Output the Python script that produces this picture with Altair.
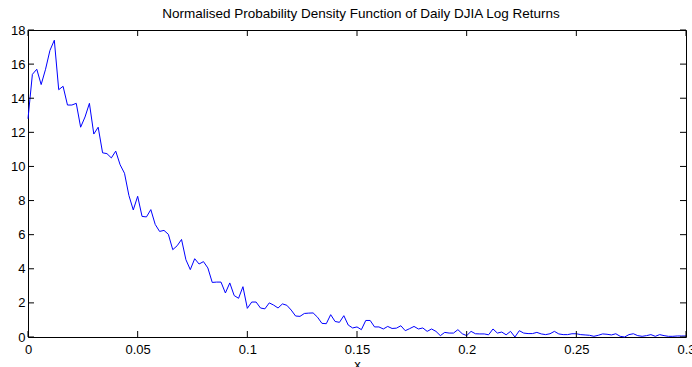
import altair as alt
import pandas as pd

# Bin centres of the return histogram (width 0.002)
x_grid = [
    0.000, 0.002, 0.004, 0.006, 0.008, 0.010, 0.012, 0.014, 0.016, 0.018,
    0.020, 0.022, 0.024, 0.026, 0.028, 0.030, 0.032, 0.034, 0.036, 0.038,
    0.040, 0.042, 0.044, 0.046, 0.048, 0.050, 0.052, 0.054, 0.056, 0.058,
    0.060, 0.062, 0.064, 0.066, 0.068, 0.070, 0.072, 0.074, 0.076, 0.078,
    0.080, 0.082, 0.084, 0.086, 0.088, 0.090, 0.092, 0.094, 0.096, 0.098,
    0.100, 0.102, 0.104, 0.106, 0.108, 0.110, 0.112, 0.114, 0.116, 0.118,
    0.120, 0.122, 0.124, 0.126, 0.128, 0.130, 0.132, 0.134, 0.136, 0.138,
    0.140, 0.142, 0.144, 0.146, 0.148, 0.150, 0.152, 0.154, 0.156, 0.158,
    0.160, 0.162, 0.164, 0.166, 0.168, 0.170, 0.172, 0.174, 0.176, 0.178,
    0.180, 0.182, 0.184, 0.186, 0.188, 0.190, 0.192, 0.194, 0.196, 0.198,
    0.200, 0.202, 0.204, 0.206, 0.208, 0.210, 0.212, 0.214, 0.216, 0.218,
    0.220, 0.222, 0.224, 0.226, 0.228, 0.230, 0.232, 0.234, 0.236, 0.238,
    0.240, 0.242, 0.244, 0.246, 0.248, 0.250, 0.252, 0.254, 0.256, 0.258,
    0.260, 0.262, 0.264, 0.266, 0.268, 0.270, 0.272, 0.274, 0.276, 0.278,
    0.280, 0.282, 0.284, 0.286, 0.288, 0.290, 0.292, 0.294, 0.296, 0.298,
    0.300,
]

# Normalised density in each bin
density = [
    12.8, 15.4, 15.7, 14.8, 15.7, 16.8, 17.4, 14.5, 14.7, 13.6,
    13.6, 13.7, 12.3, 12.9, 13.7, 11.9, 12.3, 10.8, 10.75, 10.5,
    10.9, 10.1, 9.6, 8.3, 7.45, 8.25, 7.07, 7.04, 7.47, 6.6,
    6.19, 6.25, 6.02, 5.12, 5.35, 5.72, 4.53, 3.95, 4.59, 4.28,
    4.42, 4.05, 3.2, 3.22, 3.22, 2.58, 3.17, 2.43, 2.27, 2.95,
    1.68, 2.05, 2.05, 1.7, 1.65, 2.0, 1.87, 1.7, 1.94, 1.86,
    1.58, 1.23, 1.21, 1.38, 1.4, 1.41, 1.16, 0.8, 0.78, 1.31,
    0.91, 0.86, 1.25, 0.7, 0.53, 0.59, 0.43, 0.97, 0.97, 0.59,
    0.59, 0.47, 0.62, 0.5, 0.52, 0.66, 0.37, 0.49, 0.62, 0.47,
    0.53, 0.33, 0.47, 0.33, 0.08, 0.27, 0.23, 0.23, 0.43, 0.19,
    0.08, 0.33, 0.19, 0.18, 0.18, 0.13, 0.47, 0.23, 0.29, 0.13,
    0.33, 0.0, 0.37, 0.23, 0.2, 0.2, 0.27, 0.18, 0.14, 0.19,
    0.33, 0.18, 0.14, 0.14, 0.19, 0.19, 0.14, 0.12, 0.1, 0.04,
    0.1, 0.18, 0.16, 0.12, 0.19, 0.04, 0.0, 0.14, 0.19, 0.08,
    0.04, 0.08, 0.14, 0.04, 0.14, 0.08, 0.04, 0.04, 0.06, 0.06,
    0.06,
]

x_ticks = [0, 0.05, 0.1, 0.15, 0.2, 0.25, 0.3]
y_ticks = [0, 2, 4, 6, 8, 10, 12, 14, 16, 18]

W, H = 658, 307
TICK = 6
FONT = "Liberation Sans"

df = pd.DataFrame({"x": x_grid, "pdf": density})
xt = pd.DataFrame({"x": x_ticks})
yt = pd.DataFrame({"pdf": y_ticks})

xscale = alt.Scale(domain=[0, 0.3], nice=False, zero=False)
yscale = alt.Scale(domain=[0, 18], nice=False)

label_style = dict(labelFont=FONT, labelFontSize=13, labelColor="black",
                   titleFont=FONT, titleFontSize=13, titleColor="black",
                   titleFontWeight="normal", labelFlush=False)

x_axis = alt.Axis(values=x_ticks, format="~g", title="x", ticks=False,
                  domain=False, grid=False, labelPadding=6, titlePadding=2,
                  **label_style)
y_axis = alt.Axis(values=y_ticks, format="d", title=None, ticks=False,
                  domain=False, grid=False, labelPadding=3, **label_style)

line = alt.Chart(df).mark_line(color="#0000ff", strokeWidth=1).encode(
    x=alt.X("x:Q", scale=xscale, axis=x_axis),
    y=alt.Y("pdf:Q", scale=yscale, axis=y_axis),
)

# Inward-pointing ticks on all four sides of the box
bottom_ticks = alt.Chart(xt).mark_rule(color="black").encode(
    x=alt.X("x:Q", scale=xscale, axis=x_axis),
    y=alt.value(H), y2=alt.value(H - TICK),
)
top_ticks = alt.Chart(xt).mark_rule(color="black").encode(
    x=alt.X("x:Q", scale=xscale, axis=x_axis),
    y=alt.value(0), y2=alt.value(TICK),
)
left_ticks = alt.Chart(yt).mark_rule(color="black").encode(
    y=alt.Y("pdf:Q", scale=yscale, axis=y_axis),
    x=alt.value(0), x2=alt.value(TICK),
)
right_ticks = alt.Chart(yt).mark_rule(color="black").encode(
    y=alt.Y("pdf:Q", scale=yscale, axis=y_axis),
    x=alt.value(W - TICK), x2=alt.value(W),
)

chart = alt.layer(
    line, bottom_ticks, top_ticks, left_ticks, right_ticks
).properties(
    width=W, height=H,
    background="white",
    title=alt.TitleParams(
        "Normalised Probability Density Function of Daily DJIA Log Returns",
        font=FONT, fontSize=13.5, fontWeight="normal", color="black",
        anchor="middle", frame="group", offset=4, dx=4,
    ),
    autosize=alt.AutoSizeParams(type="none"),
    padding={"left": 28, "top": 30, "right": 6, "bottom": 30},
).configure_view(
    stroke="black", strokeWidth=1
)

chart.save("out.html", embed_options={"renderer": "svg", "actions": False})
